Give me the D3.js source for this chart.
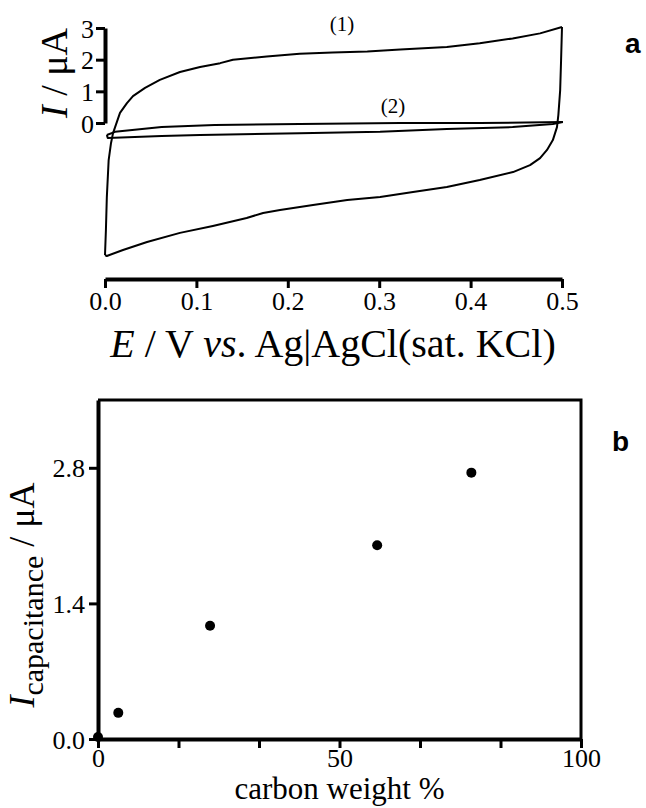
<!DOCTYPE html>
<html>
<head>
<meta charset="utf-8">
<script src="https://cdn.jsdelivr.net/npm/d3@7"></script>
<style>
  body { margin: 0; background: #fff; }
  svg { display: block; }
  .axis path, .axis line { stroke: #000; }
  .axis text { font-family: "Liberation Serif", "Times New Roman", serif; fill: #000; }
</style>
</head>
<body>
<div id="chart"></div>
<script>
// panel a: cyclic voltammograms, [E (V), I (uA)]
const cv1Forward = [
  [0.000, -4.17], [0.001, -3.38], [0.002, -2.34], [0.004, -1.17], [0.0066, -0.63],
  [0.0088, -0.32], [0.0164, 0.32], [0.024, 0.63], [0.0306, 0.85], [0.0438, 1.11],
  [0.060, 1.36], [0.082, 1.61], [0.104, 1.77], [0.126, 1.89], [0.140, 2.00],
  [0.177, 2.10], [0.213, 2.19], [0.249, 2.23], [0.287, 2.26], [0.323, 2.32],
  [0.374, 2.40], [0.410, 2.52], [0.446, 2.67], [0.476, 2.83], [0.500, 3.03]
];
const cv1Reverse = [
  [0.500, 3.03], [0.499, 1.99], [0.498, 1.04], [0.496, 0.25], [0.4945, -0.13],
  [0.490, -0.54], [0.4836, -0.85], [0.476, -1.11], [0.465, -1.33], [0.4464, -1.55],
  [0.410, -1.80], [0.374, -2.02], [0.337, -2.18], [0.301, -2.34], [0.265, -2.43],
  [0.2276, -2.59], [0.1915, -2.75], [0.173, -2.84], [0.155, -3.00], [0.118, -3.25],
  [0.082, -3.47], [0.046, -3.76], [0.0197, -4.01], [0.002, -4.20], [0.000, -4.17]
];
const cv2Forward = [
  [0.002, -0.38], [0.011, -0.28], [0.062, -0.13], [0.120, -0.06], [0.213, -0.03],
  [0.323, 0.00], [0.410, 0.00], [0.501, 0.03]
];
const cv2Reverse = [
  [0.501, 0.03], [0.490, -0.03], [0.446, -0.13], [0.374, -0.19], [0.301, -0.28],
  [0.213, -0.32], [0.104, -0.38], [0.062, -0.41], [0.003, -0.47], [0.002, -0.38]
];
const potentialTicks = [0, 0.1, 0.2, 0.3, 0.4, 0.5];
const currentTicks = [0, 1, 2, 3];

// panel b: capacitive current vs carbon content
const carbonWeight = [0, 4.2, 23.2, 57.8, 77.3];
const iCapacitance = [0.02, 0.27, 1.17, 2.0, 2.75];
const weightTicks = [0, 100 / 6, 200 / 6, 50, 400 / 6, 500 / 6, 100];
const weightLabels = [0, 50, 100];
const capTicks = [0, 1.4, 2.8];

const width = 646, height = 808;
const serif = '"Liberation Serif", "Times New Roman", serif';

const svg = d3.select('#chart').append('svg')
  .attr('width', width)
  .attr('height', height);

// ---------- panel a ----------
const xA = d3.scaleLinear().domain([0, 0.5]).range([105, 562]);
const yA = d3.scaleLinear().domain([0, 3]).range([123, 28]);

const lineA = d3.line()
  .x(d => xA(d[0]))
  .y(d => yA(d[1]));

const curves = [cv1Forward, cv1Reverse, cv2Forward, cv2Reverse];
svg.append('g')
  .selectAll('path')
  .data(curves)
  .join('path')
  .attr('d', lineA)
  .attr('fill', 'none')
  .attr('stroke', '#000')
  .attr('stroke-width', 2)
  .attr('stroke-linejoin', 'round');

const yAxisA = svg.append('g')
  .attr('class', 'axis')
  .attr('transform', `translate(${xA(0)},0)`)
  .call(d3.axisLeft(yA).tickValues(currentTicks).tickSize(9).tickSizeOuter(0).tickFormat(d3.format('d')));
yAxisA.select('.domain').attr('stroke-width', 4);
yAxisA.selectAll('.tick line').attr('stroke-width', 3);
yAxisA.selectAll('.tick text').attr('font-size', 26).attr('x', -11).attr('dy', '0.35em');

const xAxisA = svg.append('g')
  .attr('class', 'axis')
  .attr('transform', 'translate(0,279)')
  .call(d3.axisBottom(xA).tickValues(potentialTicks).tickSize(9).tickSizeOuter(0).tickFormat(d3.format('.1f')));
xAxisA.select('.domain').attr('stroke-width', 4);
xAxisA.selectAll('.tick line').attr('stroke-width', 3);
xAxisA.selectAll('.tick text').attr('font-size', 26).attr('y', 13);

// axis titles, panel a
const yTitleA = svg.append('text')
  .attr('transform', 'translate(67,73) rotate(-90)')
  .attr('text-anchor', 'middle')
  .attr('font-family', serif)
  .attr('font-size', 38);
yTitleA.append('tspan').attr('font-style', 'italic').text('I');
yTitleA.append('tspan').text(' / μA');

const xTitleA = svg.append('text')
  .attr('x', 333)
  .attr('y', 357)
  .attr('text-anchor', 'middle')
  .attr('font-family', serif)
  .attr('font-size', 40);
xTitleA.append('tspan').attr('font-style', 'italic').text('E');
xTitleA.append('tspan').text(' / V ');
xTitleA.append('tspan').attr('font-style', 'italic').text('vs');
xTitleA.append('tspan').text('. Ag|AgCl(sat. KCl)');

svg.append('text')
  .attr('x', 342).attr('y', 31)
  .attr('text-anchor', 'middle')
  .attr('font-family', serif).attr('font-size', 21)
  .text('(1)');
svg.append('text')
  .attr('x', 393).attr('y', 113)
  .attr('text-anchor', 'middle')
  .attr('font-family', serif).attr('font-size', 21)
  .text('(2)');

svg.append('text')
  .attr('x', 625).attr('y', 53)
  .attr('font-family', '"Liberation Sans", Arial, sans-serif')
  .attr('font-weight', 'bold').attr('font-size', 28)
  .text('a');

// ---------- panel b ----------
const xB = d3.scaleLinear().domain([0, 100]).range([98, 581]);
const yB = d3.scaleLinear().domain([0, 3.5]).range([739, 400]);

// frame: top and right edges
svg.append('path')
  .attr('d', `M${xB(0)},${yB(3.5)}H${xB(100)}V${yB(0)}`)
  .attr('fill', 'none')
  .attr('stroke', '#000')
  .attr('stroke-width', 3);

const xAxisB = svg.append('g')
  .attr('class', 'axis')
  .attr('transform', `translate(0,${yB(0)})`)
  .call(d3.axisBottom(xB).tickValues(weightTicks).tickSize(9).tickSizeOuter(0)
    .tickFormat(d => weightLabels.includes(Math.round(d)) && Math.abs(d - Math.round(d)) < 1e-6 ? d : ''));
xAxisB.select('.domain').attr('stroke-width', 4);
xAxisB.selectAll('.tick line').attr('stroke-width', 3);
xAxisB.selectAll('.tick text').attr('font-size', 26).attr('y', 10);

const yAxisB = svg.append('g')
  .attr('class', 'axis')
  .attr('transform', `translate(${xB(0)},0)`)
  .call(d3.axisLeft(yB).tickValues(capTicks).tickSize(9).tickSizeOuter(0).tickFormat(d3.format('.1f')));
yAxisB.select('.domain').attr('stroke-width', 4);
yAxisB.selectAll('.tick line').attr('stroke-width', 3);
yAxisB.selectAll('.tick text').attr('font-size', 26).attr('x', -13).attr('dy', '0.35em');

svg.append('g')
  .selectAll('circle')
  .data(carbonWeight.map((w, i) => [w, iCapacitance[i]]))
  .join('circle')
  .attr('cx', d => xB(d[0]))
  .attr('cy', d => yB(d[1]))
  .attr('r', 5)
  .attr('fill', '#000');

const yTitleB = svg.append('text')
  .attr('transform', 'translate(34,595) rotate(-90)')
  .attr('text-anchor', 'middle')
  .attr('font-family', serif)
  .attr('font-size', 36);
yTitleB.append('tspan').attr('font-style', 'italic').text('I');
yTitleB.append('tspan').attr('font-size', 30).attr('dy', 9).text('capacitance');
yTitleB.append('tspan').attr('dy', -9).text(' / μA');

svg.append('text')
  .attr('x', xB(50)).attr('y', 799)
  .attr('text-anchor', 'middle')
  .attr('font-family', serif).attr('font-size', 31)
  .text('carbon weight %');

svg.append('text')
  .attr('x', 612).attr('y', 451)
  .attr('font-family', '"Liberation Sans", Arial, sans-serif')
  .attr('font-weight', 'bold').attr('font-size', 28)
  .text('b');
</script>
</body>
</html>
